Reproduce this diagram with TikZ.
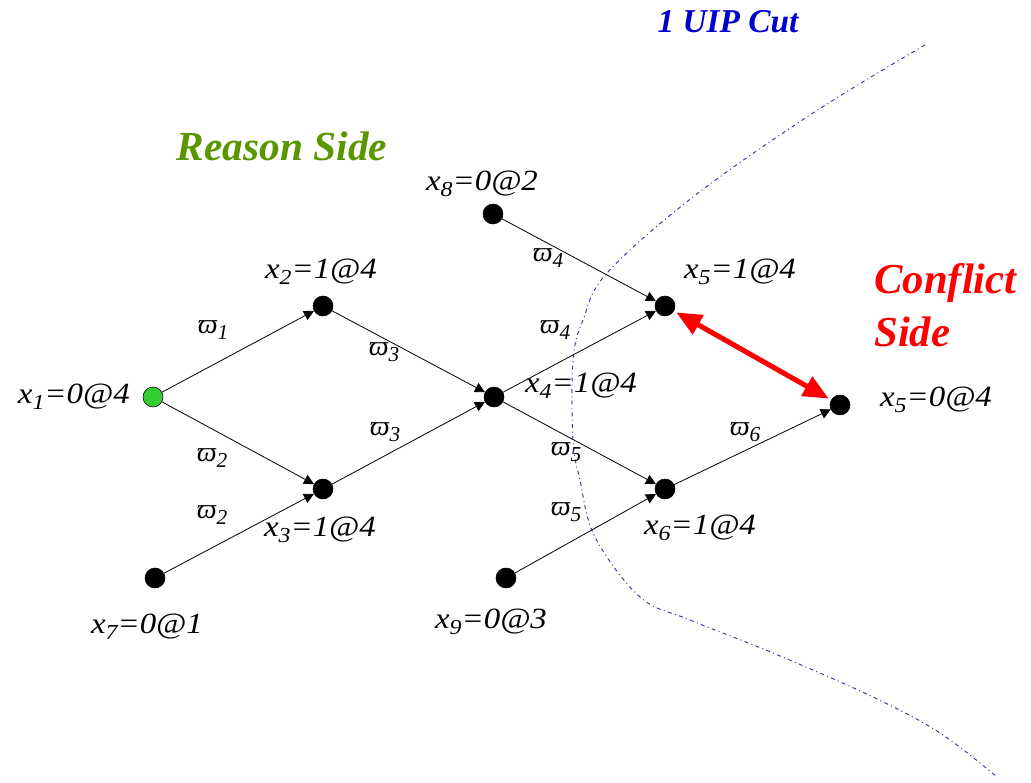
\documentclass[tikz,border=0pt]{standalone}
\usepackage{fontspec}
\setmainfont{Liberation Serif}
\usetikzlibrary{arrows.meta}
\newcommand\sbx[1]{\raisebox{-0.45ex}{\fontsize{16}{16}\selectfont #1}}
\newcommand\vlab[1]{\scalebox{1.12}[1]{#1}}
\definecolor{reasongreen}{RGB}{90,150,0}
\definecolor{cutblue}{RGB}{0,0,204}
\definecolor{curveblue}{RGB}{50,50,160}
\definecolor{nodegreen}{RGB}{51,204,51}
\tikzset{
  vert/.style={circle,draw=black,fill=black,minimum size=15pt,inner sep=0pt},
  gvert/.style={vert,fill=nodegreen},
  lbl/.style={font=\itshape\fontsize{22}{24}\selectfont,inner sep=0pt},
  wlbl/.style={font=\itshape\fontsize{21}{22}\selectfont,inner sep=0pt},
  edge/.style={-{Triangle[length=7.5pt,width=7.5pt]},line width=0.6pt},
  title/.style={font=\bfseries\itshape\fontsize{31}{34}\selectfont,inner sep=0pt},
}
\begin{document}
\begin{tikzpicture}[x=0.75pt,y=-0.75pt]
\useasboundingbox (0,0) rectangle (1031,782);
% cut curve
\draw[curveblue,line width=0.7pt,dash pattern=on 3pt off 2.5pt on 0.8pt off 2.5pt]
  plot[smooth,tension=0.6] coordinates {(925,45) (813,113) (693,197) (607,273) (583,320) (573,360) (573,440) (580,480) (595,537) (640,597) (690,620) (773,653) (873,697) (940,733) (997,777)};
% nodes
\node[gvert] (x1) at (153,397) {};
\node[vert] (x2) at (323,306) {};
\node[vert] (x3) at (323,489) {};
\node[vert] (x7) at (155,578) {};
\node[vert] (x4) at (494,397) {};
\node[vert] (x8) at (493,214) {};
\node[vert] (x5) at (665,306) {};
\node[vert] (x6) at (665,489) {};
\node[vert] (x9) at (506,578) {};
\node[vert] (x5b) at (840,405) {};
% edges
\draw[edge] (x1) -- (x2);
\draw[edge] (x1) -- (x3);
\draw[edge] (x7) -- (x3);
\draw[edge] (x2) -- (x4);
\draw[edge] (x3) -- (x4);
\draw[edge] (x8) -- (x5);
\draw[edge] (x4) -- (x5);
\draw[edge] (x4) -- (x6);
\draw[edge] (x9) -- (x6);
\draw[edge] (x6) -- (x5b);
\draw[red,line width=3.8pt,{Triangle[length=19pt,width=16pt]}-{Triangle[length=19pt,width=16pt]},shorten <=2pt,shorten >=2pt] (x5) -- (x5b);
% vertex labels
\node[lbl,anchor=east] (l1) at (130,397) {\vlab{x\sbx{1}=0@4}};
\node[lbl] (l2) at (321,272) {\vlab{x\sbx{2}=1@4}};
\node[lbl] (l3) at (320,530) {\vlab{x\sbx{3}=1@4}};
\node[lbl] (l7) at (147,627) {\vlab{x\sbx{7}=0@1}};
\node[lbl] (l8) at (482,184) {\vlab{x\sbx{8}=0@2}};
\node[lbl] (l4) at (581,386) {\vlab{x\sbx{4}=1@4}};
\node[lbl] (l5) at (740,272) {\vlab{x\sbx{5}=1@4}};
\node[lbl] (l5b) at (936,400) {\vlab{x\sbx{5}=0@4}};
\node[lbl] (l6) at (700,528) {\vlab{x\sbx{6}=1@4}};
\node[lbl] (l9) at (491,622) {\vlab{x\sbx{9}=0@3}};
% edge labels
\node[wlbl] (w1) at (213,330) {ϖ\sbx{1}};
\node[wlbl] (w2a) at (212,458) {ϖ\sbx{2}};
\node[wlbl] (w3a) at (384,352) {ϖ\sbx{3}};
\node[wlbl] (w3b) at (385,432) {ϖ\sbx{3}};
\node[wlbl] (w2b) at (212,515) {ϖ\sbx{2}};
\node[wlbl] (w4a) at (548,258) {ϖ\sbx{4}};
\node[wlbl] (w4b) at (555,330) {ϖ\sbx{4}};
\node[wlbl] (w5a) at (566,452) {ϖ\sbx{5}};
\node[wlbl] (w5b) at (566,512) {ϖ\sbx{5}};
\node[wlbl] (w6) at (745,432) {ϖ\sbx{6}};
% titles
\node[title,text=reasongreen] (reason) at (282,146) {Reason Side};
\node[title,text=cutblue,font=\bfseries\itshape\fontsize{25}{28}\selectfont] (cut) at (728,22) {1 UIP Cut};
\node[title,text=red,anchor=west,align=left,font=\bfseries\itshape\fontsize{32}{40}\selectfont] (conf) at (874,305) {Conflict\\Side};
\end{tikzpicture}
\end{document}
